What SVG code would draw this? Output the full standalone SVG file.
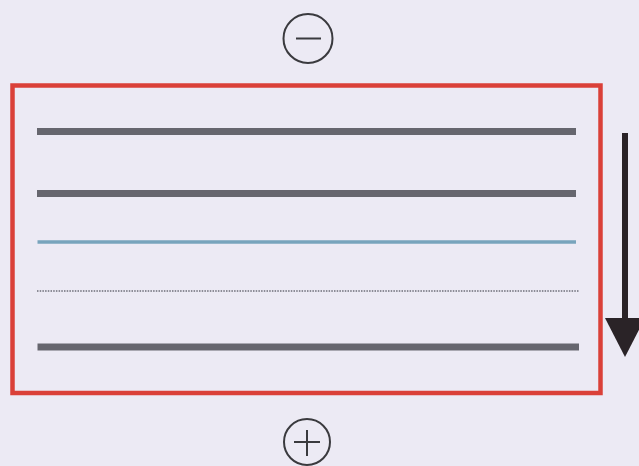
<svg xmlns="http://www.w3.org/2000/svg" width="639" height="466" viewBox="0 0 639 466">
  <style>
    .band { stroke: #66666e; stroke-width: 7; stroke-linecap: butt; fill: none; }
    .electrode { fill: none; stroke: #3a3a3e; stroke-width: 2; }
    .sign { stroke: #3a3a3e; stroke-width: 2; fill: none; }
  </style>
  <rect x="0" y="0" width="639" height="466" fill="#eceaf4"/>

  <g id="cathode">
    <circle class="electrode" cx="308" cy="38.5" r="24.5"/>
    <line class="sign" x1="296" y1="38.5" x2="321" y2="38.5"/>
  </g>

  <g id="gel">
    <rect x="12.5" y="85.5" width="588" height="307.5" fill="none" stroke="#da4038" stroke-width="4.5"/>
  </g>

  <g id="band1"><line class="band" x1="37" y1="131.5" x2="576" y2="131.5"/></g>
  <g id="band2"><line class="band" x1="37" y1="193.5" x2="576" y2="193.5"/></g>
  <g id="band3"><line x1="37.5" y1="242" x2="576" y2="242" stroke="#78a4bc" stroke-width="3.5"/></g>
  <g id="band4"><line x1="37" y1="291" x2="579" y2="291" stroke="#8c8c96" stroke-width="1.8" stroke-dasharray="1.5 1.2"/></g>
  <g id="band5"><line class="band" x1="37.5" y1="347" x2="579" y2="347" stroke-width="8"/></g>

  <g id="anode">
    <circle class="electrode" cx="307" cy="442" r="23"/>
    <line class="sign" x1="294" y1="442" x2="320" y2="442"/>
    <line class="sign" x1="307" y1="430" x2="307" y2="456"/>
  </g>

  <g id="connectors">
    <line x1="625" y1="133" x2="625" y2="319" stroke="#2a2327" stroke-width="6"/>
    <path d="M605,318 L645,318 L625,357 Z" fill="#2a2327"/>
  </g>
</svg>
